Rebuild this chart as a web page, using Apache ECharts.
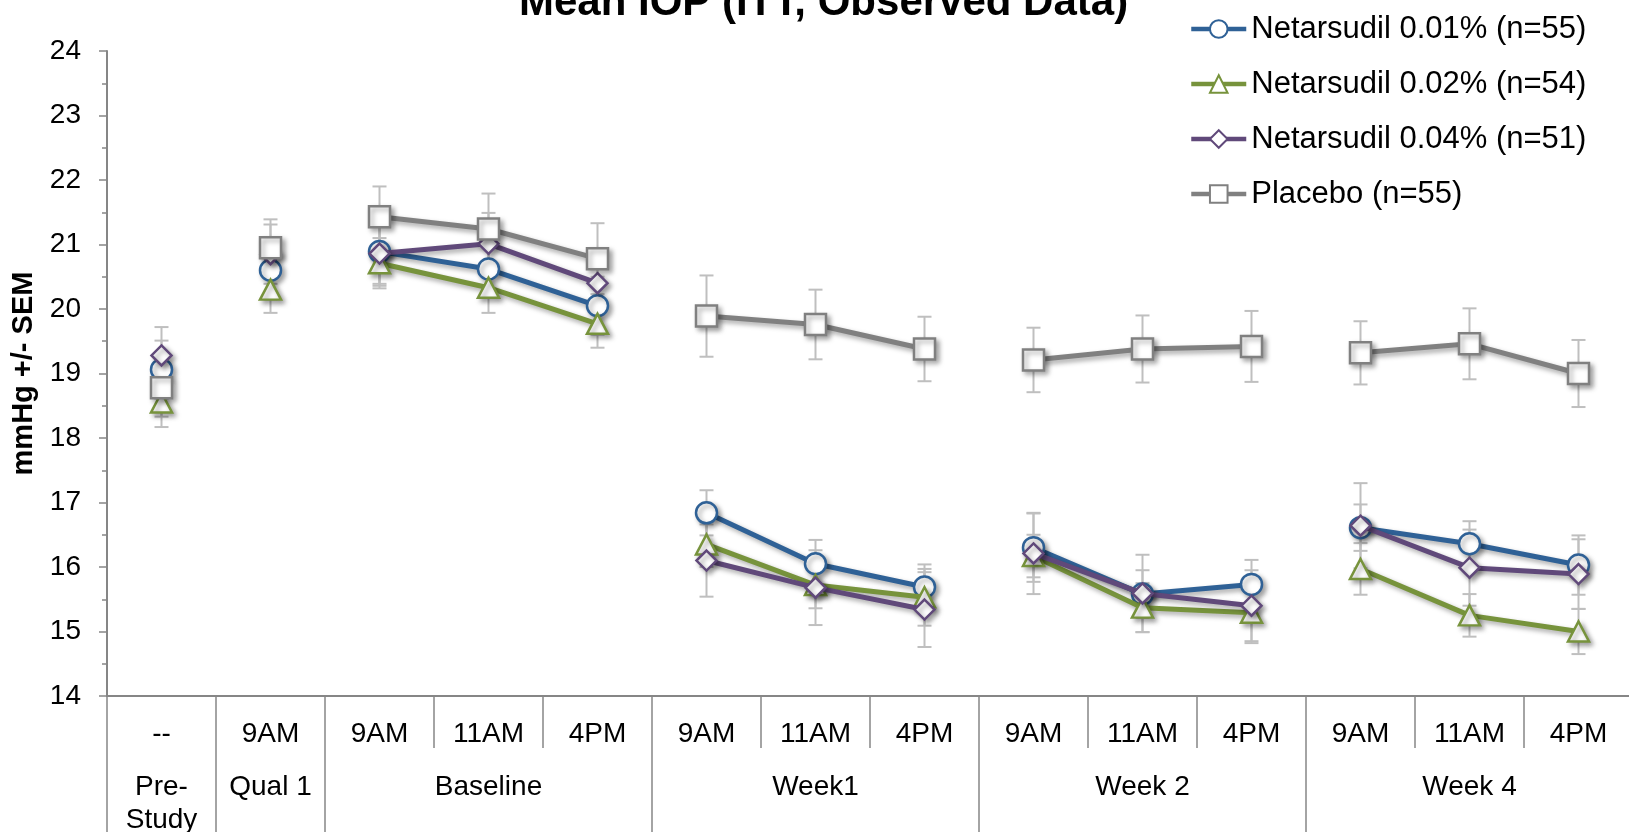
<!DOCTYPE html>
<html>
<head>
<meta charset="utf-8">
<script src="https://cdn.jsdelivr.net/npm/echarts@6/dist/echarts.min.js"></script>
<style>
html,body{margin:0;padding:0;background:#fff;}
#chart{width:1629px;height:832px;}
</style>
</head>
<body>
<div id="chart"></div>
<script>
// ---- data ----
const timeLabels = ['--', '9AM', '9AM', '11AM', '4PM', '9AM', '11AM', '4PM', '9AM', '11AM', '4PM', '9AM', '11AM', '4PM'];
const groupLabels = ['Pre-\nStudy', 'Qual 1', '', 'Baseline', '', '', 'Week1', '', '', 'Week 2', '', '', 'Week 4', ''];
const groupStarts = [0, 1, 2, 5, 8, 11];
const groupRanges = [[0, 0], [1, 1], [2, 4], [5, 7], [8, 10], [11, 13]];

const seriesNames = ['Netarsudil 0.01% (n=55)', 'Netarsudil 0.02% (n=54)', 'Netarsudil 0.04% (n=51)', 'Placebo (n=55)'];
const net01 = [19.06, 20.60, 20.89, 20.62, 20.05, 16.84, 16.05, 15.69, 16.30, 15.58, 15.73, 16.61, 16.36, 16.03];
const net02 = [18.55, 20.30, 20.71, 20.33, 19.77, 16.35, 15.72, 15.53, 16.17, 15.37, 15.29, 15.97, 15.25, 15.00];
const net04 = [19.28, 20.85, 20.86, 21.01, 20.40, 16.10, 15.68, 15.34, 16.21, 15.59, 15.40, 16.64, 15.99, 15.89];
const placebo = [18.78, 20.95, 21.43, 21.24, 20.78, 19.89, 19.76, 19.38, 19.21, 19.38, 19.42, 19.32, 19.46, 19.00];

const sem01 = [0.45, 0.45, 0.50, 0.45, 0.45, 0.35, 0.37, 0.35, 0.53, 0.37, 0.38, 0.36, 0.35, 0.46];
const sem02 = [0.38, 0.36, 0.39, 0.39, 0.37, 0.35, 0.36, 0.44, 0.33, 0.38, 0.47, 0.40, 0.33, 0.35];
const sem04 = [0.44, 0.46, 0.50, 0.48, 0.48, 0.56, 0.58, 0.58, 0.63, 0.60, 0.55, 0.66, 0.59, 0.54];
const semPl = [0.45, 0.44, 0.47, 0.55, 0.55, 0.63, 0.54, 0.50, 0.50, 0.52, 0.55, 0.49, 0.55, 0.52];

// ---- styles ----
const FONT = "'Liberation Sans', Arial, sans-serif";
const styles = [
  { color: '#2F6196', symbol: 'circle', size: 21 },
  { color: '#77933C', symbol: 'triangle', size: [21, 20] },
  { color: '#60497A', symbol: 'diamond', size: [20, 20] },
  { color: '#808080', symbol: 'rect', size: [21, 21] }
];
const valuesList = [net01, net02, net04, placebo];
const semList = [sem01, sem02, sem04, semPl];

const series = [];
// error bars
valuesList.forEach(function (vals, k) {
  series.push({
    type: 'custom',
    xAxisIndex: 0,
    yAxisIndex: 0,
    z: 1,
    silent: true,
    data: vals.map(function (v, i) { return [i, v - semList[k][i], v + semList[k][i]]; }),
    renderItem: function (params, api) {
      const x = api.value(0);
      const top = api.coord([x, api.value(2)]);
      const bot = api.coord([x, api.value(1)]);
      const hw = 7;
      const st = { stroke: '#BFBFBF', lineWidth: 2 };
      return {
        type: 'group',
        children: [
          { type: 'line', shape: { x1: top[0], y1: top[1], x2: bot[0], y2: bot[1] }, style: st },
          { type: 'line', shape: { x1: top[0] - hw, y1: top[1], x2: top[0] + hw, y2: top[1] }, style: st },
          { type: 'line', shape: { x1: bot[0] - hw, y1: bot[1], x2: bot[0] + hw, y2: bot[1] }, style: st }
        ]
      };
    }
  });
});
// lines per group
valuesList.forEach(function (vals, k) {
  const s = styles[k];
  groupRanges.forEach(function (g) {
    series.push({
      type: 'line',
      name: seriesNames[k],
      xAxisIndex: 0,
      yAxisIndex: 0,
      z: 3 + k,
      data: vals.map(function (v, i) { return (i >= g[0] && i <= g[1]) ? v : null; }),
      connectNulls: false,
      showSymbol: true,
      showAllSymbol: true,
      symbol: s.symbol,
      symbolSize: s.size,
      animation: false,
      lineStyle: {
        color: s.color, width: 5,
        shadowColor: 'rgba(0,0,0,0.35)', shadowBlur: 5, shadowOffsetX: 3, shadowOffsetY: 3
      },
      itemStyle: {
        color: '#ffffff', borderColor: s.color, borderWidth: 2.5,
        shadowColor: 'rgba(0,0,0,0.35)', shadowBlur: 5, shadowOffsetX: 3, shadowOffsetY: 3
      },
      emphasis: { disabled: true }
    });
  });
});

const option = {
  animation: false,
  backgroundColor: '#ffffff',
  title: {
    text: 'Mean IOP (ITT, Observed Data)',
    left: 519,
    top: -18,
    padding: 0,
    textStyle: { fontFamily: FONT, fontSize: 42, fontWeight: 'bold', color: '#000', lineHeight: 42 }
  },
  legend: {
    data: seriesNames,
    orient: 'vertical',
    left: 1189,
    top: 12,
    padding: 0,
    itemWidth: 55,
    itemHeight: 22,
    itemGap: 21,
    lineStyle: { width: 4.5, shadowBlur: 0, shadowOffsetX: 0, shadowOffsetY: 0 },
    itemStyle: { borderWidth: 2, shadowBlur: 0, shadowOffsetX: 0, shadowOffsetY: 0 },
    textStyle: { fontFamily: FONT, fontSize: 31, color: '#000', lineHeight: 34 }
  },
  grid: { left: 107, top: 51, width: 1526, height: 645, containLabel: false, outerBoundsMode: 'none' },
  xAxis: [
    {
      type: 'category',
      data: timeLabels,
      position: 'bottom',
      boundaryGap: true,
      axisLine: { show: true, lineStyle: { color: '#868686', width: 2 } },
      axisTick: { show: true, length: 52, alignWithLabel: false, interval: 0, lineStyle: { color: '#868686', width: 1.5 } },
      axisLabel: { interval: 0, margin: 22, fontFamily: FONT, fontSize: 28, color: '#000', lineHeight: 32 },
      splitLine: { show: false }
    },
    {
      type: 'category',
      data: groupLabels,
      position: 'bottom',
      boundaryGap: true,
      axisLine: { show: false },
      axisTick: {
        show: true, length: 140, alignWithLabel: false,
        interval: function (index) { return groupStarts.indexOf(index) >= 0; },
        lineStyle: { color: '#868686', width: 1.5 }
      },
      axisLabel: { interval: 0, margin: 75, fontFamily: FONT, fontSize: 28, color: '#000', lineHeight: 33 },
      splitLine: { show: false }
    }
  ],
  yAxis: {
    type: 'value',
    min: 14,
    max: 24,
    interval: 1,
    name: 'mmHg +/- SEM',
    nameLocation: 'middle',
    nameGap: 67,
    nameRotate: 90,
    nameTextStyle: { fontFamily: FONT, fontSize: 29, fontWeight: 'bold', color: '#000' },
    axisLine: { show: true, lineStyle: { color: '#868686', width: 2 } },
    axisTick: { show: true, length: 8, lineStyle: { color: '#868686', width: 1.5 } },
    minorTick: { show: true, splitNumber: 2, length: 5, lineStyle: { color: '#868686', width: 1.5 } },
    axisLabel: { fontFamily: FONT, fontSize: 28, color: '#000', margin: 26 },
    splitLine: { show: false }
  },
  series: series
};

const chart = echarts.init(document.getElementById('chart'), null, { renderer: 'canvas' });
chart.setOption(option);
</script>
</body>
</html>
